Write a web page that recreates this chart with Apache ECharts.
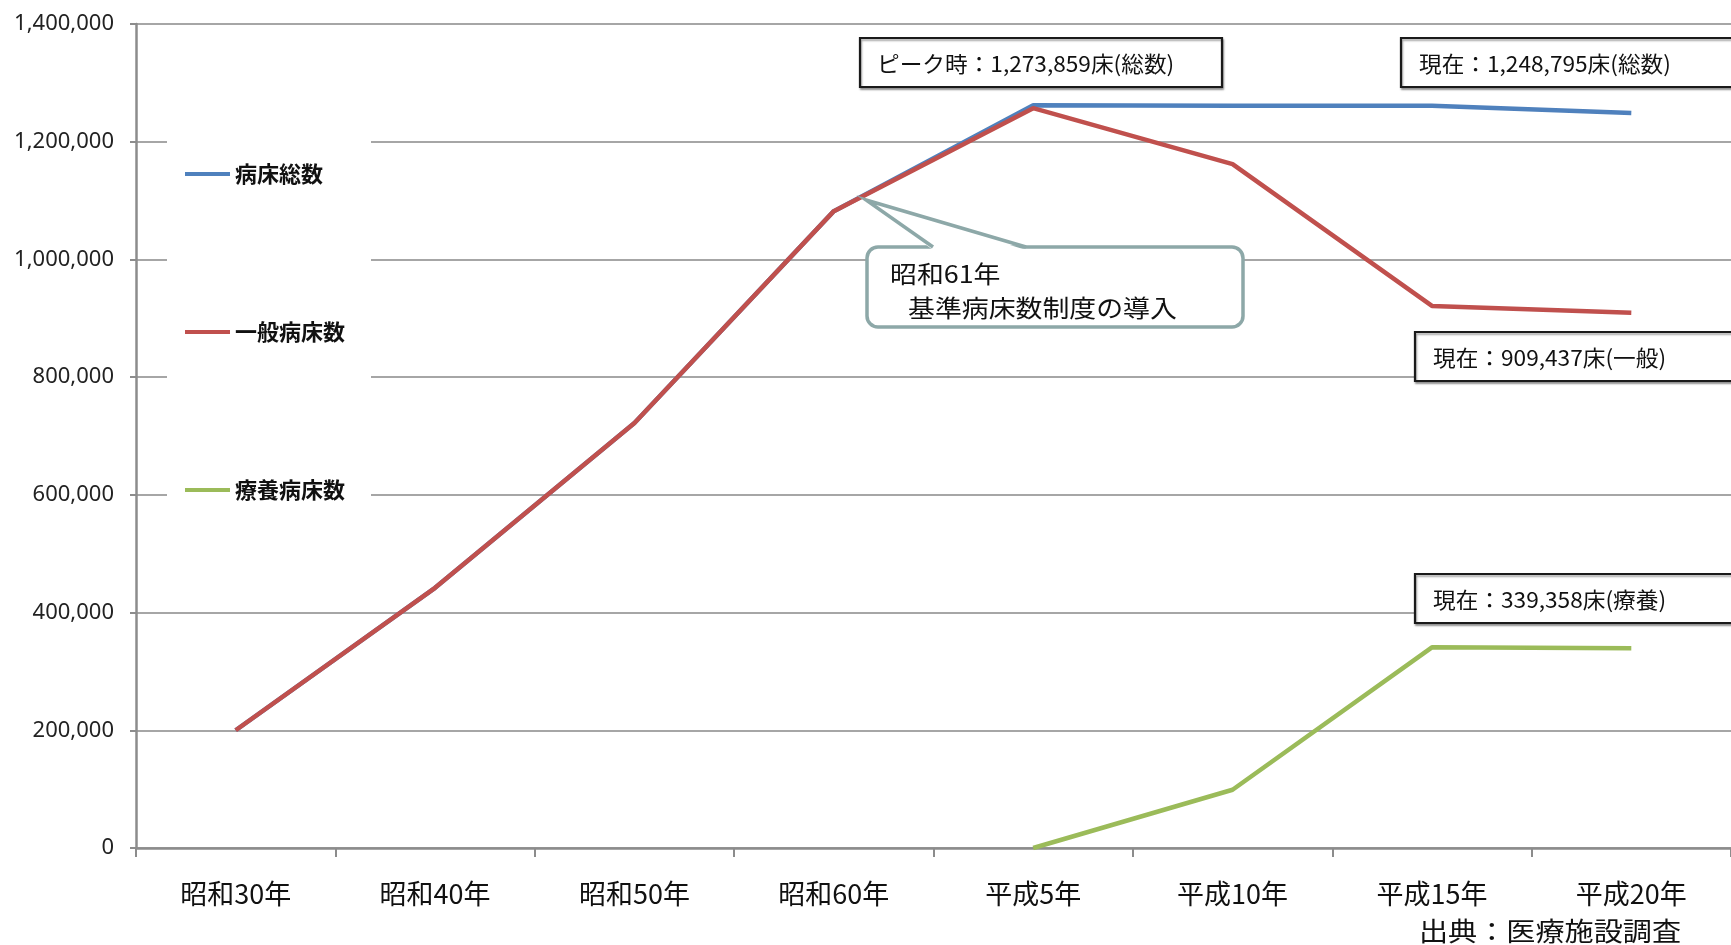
<!DOCTYPE html>
<html>
<head>
<meta charset="utf-8">
<script src="https://cdn.jsdelivr.net/npm/echarts@6/dist/echarts.min.js"></script>
<style>
html,body{margin:0;padding:0;background:#fff;}
#chart{width:1731px;height:945px;}
</style>
</head>
<body>
<div id="chart"></div>
<script>
const categories = ['昭和30年','昭和40年','昭和50年','昭和60年','平成5年','平成10年','平成15年','平成20年'];
const seriesNames = ['病床総数','一般病床数','療養病床数'];
const totalBeds = [200000, 442000, 722000, 1082000, 1262000, 1261000, 1261000, 1248795];
const generalBeds = [200000, 442000, 722000, 1082000, 1257000, 1162000, 921000, 909437];
const ltcBeds = [null, null, null, null, 0, 99000, 341000, 339358];
const yMin = 0, yMax = 1400000, yStep = 200000;
const noteTexts = ['ピーク時：1,273,859床(総数)','現在：1,248,795床(総数)','現在：909,437床(一般)','現在：339,358床(療養)'];
const calloutLines = ['昭和61年','基準病床数制度の導入'];
const sourceText = '出典：医療施設調査';

const CJK = '"Noto Sans CJK JP", "Noto Sans", sans-serif';
const chart = echarts.init(document.getElementById('chart'));

function box(x, y, w, h, text, tx) {
  return [
    {type:'rect', z:100, shape:{x:x, y:y, width:w, height:h},
     style:{fill:'#fff', stroke:'#1a1a1a', lineWidth:2.2, shadowColor:'rgba(0,0,0,0.35)', shadowBlur:2, shadowOffsetX:1, shadowOffsetY:2}},
    {type:'text', z:101, x:tx, y:y + h/2 + 1, scaleX:1.03,
     style:{text:text, fontSize:22, fontFamily:CJK, fill:'#111', align:'left', verticalAlign:'middle', textAlign:'left', textVerticalAlign:'middle'}}
  ];
}

const graphics = [].concat(
  box(860, 38, 362, 49, noteTexts[0], 877),
  box(1401, 38, 360, 49, noteTexts[1], 1419),
  box(1415, 332, 350, 49, noteTexts[2], 1433),
  box(1415, 574, 350, 49, noteTexts[3], 1433),
  [
    {type:'rect', z:100, shape:{x:867, y:247, width:376, height:80, r:11},
     style:{fill:'#fff', stroke:'#8DA8A8', lineWidth:3.5}},
    {type:'polygon', z:101, shape:{points:[[866,200],[933,250],[1026,250]]},
     style:{fill:'#fff'}},
    {type:'polyline', z:102, shape:{points:[[933,247],[866,200],[1026,247]]},
     style:{stroke:'#8DA8A8', lineWidth:3.5, fill:null}},
    {type:'text', z:103, x:890, y:274, scaleX:1.12,
     style:{text:calloutLines[0], fontSize:24, fontFamily:CJK, fill:'#111', align:'left', verticalAlign:'middle', textAlign:'left', textVerticalAlign:'middle'}},
    {type:'text', z:103, x:908, y:308, scaleX:1.12,
     style:{text:calloutLines[1], fontSize:24, fontFamily:CJK, fill:'#111', align:'left', verticalAlign:'middle', textAlign:'left', textVerticalAlign:'middle'}},
    {type:'text', z:103, x:1419, y:931, scaleX:1.12,
     style:{text:sourceText, fontSize:26, fontFamily:CJK, fill:'#111', align:'left', verticalAlign:'middle', textAlign:'left', textVerticalAlign:'middle'}}
  ]
);

const option = {
  animation: false,
  backgroundColor: '#fff',
  grid: {left:136, top:24, width:1600, height:824, containLabel:false},
  legend: {
    orient:'vertical', left:167, top:110,
    data: seriesNames,
    icon:'rect', itemWidth:45, itemHeight:4, itemGap:134,
    padding:[52, 26, 58, 18],
    backgroundColor:'#fff',
    textStyle:{fontSize:22, lineHeight:24, fontFamily:CJK, color:'#111', fontWeight:'bold'},
    selectedMode:false
  },
  xAxis: {
    type:'category', data:categories, boundaryGap:true,
    axisLine:{lineStyle:{color:'#8C8C8C', width:2.5}},
    axisTick:{show:true, length:9, lineStyle:{color:'#8C8C8C', width:2}},
    axisLabel:{fontSize:27, fontFamily:CJK, color:'#111', margin:32}
  },
  yAxis: {
    type:'value', min:yMin, max:yMax, interval:yStep,
    axisLine:{show:true, lineStyle:{color:'#8C8C8C', width:2.5}},
    axisTick:{show:true, length:6, lineStyle:{color:'#8C8C8C', width:2}},
    axisLabel:{fontSize:22, fontFamily:'"Noto Sans", sans-serif', color:'#222', margin:22,
      formatter:function(v){return v.toLocaleString('en-US');}},
    splitLine:{show:true, lineStyle:{color:'#A6A6A6', width:2}}
  },
  series: [
    {name:seriesNames[0], type:'line', data:totalBeds, showSymbol:false, symbol:'none',
     lineStyle:{color:'#4F81BD', width:4.5}, itemStyle:{color:'#4F81BD'}},
    {name:seriesNames[1], type:'line', data:generalBeds, showSymbol:false, symbol:'none',
     lineStyle:{color:'#C0504D', width:4.5}, itemStyle:{color:'#C0504D'}},
    {name:seriesNames[2], type:'line', data:ltcBeds, showSymbol:false, symbol:'none',
     lineStyle:{color:'#9BBB59', width:4.5}, itemStyle:{color:'#9BBB59'}}
  ],
  graphic: graphics
};
chart.setOption(option);
</script>
</body>
</html>
